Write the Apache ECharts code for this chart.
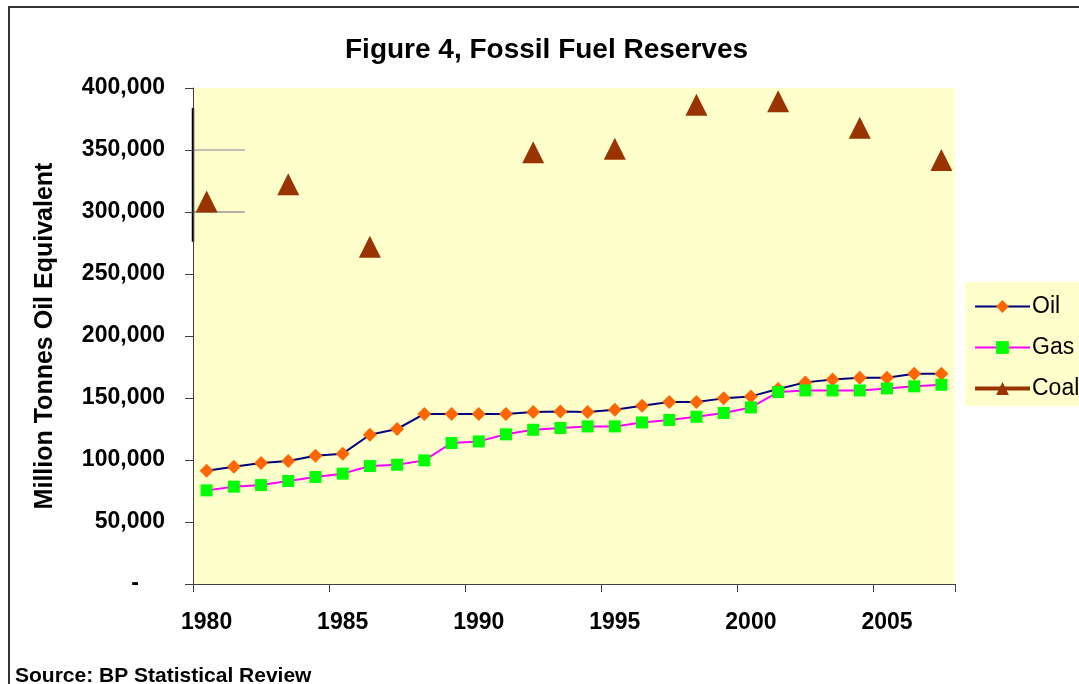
<!DOCTYPE html>
<html>
<head>
<meta charset="utf-8">
<script src="https://cdn.jsdelivr.net/npm/echarts@6/dist/echarts.min.js"></script>
<style>
html,body{margin:0;padding:0;background:#fff;}
#c{width:1079px;height:684px;}
</style>
</head>
<body>
<div id="c"></div>
<script>
// ---- data ----
const years = ['1980','1981','1982','1983','1984','1985','1986','1987','1988','1989',
               '1990','1991','1992','1993','1994','1995','1996','1997','1998','1999',
               '2000','2001','2002','2003','2004','2005','2006','2007'];
const xTickLabels = ['1980','1985','1990','1995','2000','2005'];
const oil = [91400, 94600, 97600, 99200, 103500, 105100, 120400, 125000, 137100, 137100,
             137100, 137100, 138700, 139200, 138700, 140600, 143800, 146800, 146800, 149700,
             151300, 157200, 162600, 165000, 166400, 166400, 169600, 169600];
const gas = [75500, 78500, 79800, 83100, 86300, 89000, 95100, 96200, 99700, 113700,
             115000, 120700, 124400, 125800, 127100, 127100, 130300, 132300, 134900, 137900,
             142400, 154800, 156100, 156100, 156100, 157700, 159400, 160700];
const coal = [308500, null, null, 322300, null, null, 271900, null, null, null,
              null, null, 348200, null, null, 351000, null, null, 386400, null,
              null, 389400, null, null, 368000, null, null, 342000];
const yMax = 400000;
const yStep = 50000;

const FONT = "'Liberation Sans', Arial, sans-serif";
const chart = echarts.init(document.getElementById('c'), null, {renderer: 'canvas'});

const showTick = (idx, val) => xTickLabels.indexOf(val) >= 0;

chart.setOption({
  animation: false,
  backgroundColor: '#ffffff',
  title: {
    text: 'Figure 4, Fossil Fuel Reserves',
    left: 345, top: 36, padding: 0,
    textStyle: {fontFamily: FONT, fontSize: 28, fontWeight: 'bold', color: '#000'}
  },
  grid: {
    left: 193, top: 88, right: 124, bottom: 100,
    show: true, backgroundColor: '#FFFFCC', borderWidth: 0, containLabel: false
  },
  legend: {
    orient: 'vertical',
    left: 965, top: 282,
    padding: [13, 8, 6, 8],
    backgroundColor: '#FFFFCC',
    itemWidth: 55, itemHeight: 16, itemGap: 18,
    textStyle: {fontFamily: FONT, fontSize: 23, color: '#000', padding: [0, 0, 0, -3]},
    data: [
      {name: 'Oil'},
      {name: 'Gas'},
      {name: 'Coal', lineStyle: {color: '#993300', width: 4, opacity: 1}}
    ]
  },
  xAxis: {
    type: 'category',
    data: years,
    boundaryGap: true,
    axisLine: {show: true, lineStyle: {color: '#404040', width: 1}},
    axisTick: {show: true, interval: showTick, length: 8, lineStyle: {color: '#404040'}},
    axisLabel: {
      interval: showTick, margin: 27,
      fontFamily: FONT, fontSize: 23, fontWeight: 'bold', color: '#000'
    },
    splitLine: {show: false}
  },
  yAxis: {
    type: 'value',
    min: 0, max: yMax, interval: yStep,
    name: 'Million Tonnes Oil Equivalent',
    nameLocation: 'middle',
    nameGap: 135,
    nameTextStyle: {fontFamily: FONT, fontSize: 25, fontWeight: 'bold', color: '#000'},
    axisLine: {show: true, lineStyle: {color: '#404040', width: 1}},
    axisTick: {show: true, length: 8, lineStyle: {color: '#404040'}},
    axisLabel: {
      margin: 28,
      fontFamily: FONT, fontSize: 23, fontWeight: 'bold', color: '#000',
      formatter: v => v === 0 ? '{z|-}' : v.toLocaleString('en-US'),
      rich: {z: {fontFamily: FONT, fontSize: 23, fontWeight: 'bold', color: '#000', padding: [0, 26, 0, 0]}}
    },
    splitLine: {show: false}
  },
  series: [
    {
      name: 'Oil', type: 'line', data: oil,
      symbol: 'diamond', symbolSize: 14, showAllSymbol: true,
      lineStyle: {color: '#000080', width: 2},
      itemStyle: {color: '#FF6600'}
    },
    {
      name: 'Gas', type: 'line', data: gas,
      symbol: 'rect', symbolSize: 12, showAllSymbol: true,
      lineStyle: {color: '#FF00FF', width: 2},
      itemStyle: {color: '#00FF00'}
    },
    {
      name: 'Coal', type: 'line', data: coal,
      symbol: 'triangle', symbolSize: 22, showAllSymbol: true,
      connectNulls: false,
      lineStyle: {color: '#993300', width: 4, opacity: 0},
      itemStyle: {color: '#993300'}
    }
  ],
  graphic: [
    {
      type: 'rect', id: 'frame', silent: true,
      shape: {x: 9, y: 7, width: 1300, height: 900},
      style: {fill: 'none', stroke: '#333', lineWidth: 2}
    },
    {
      type: 'text', id: 'source', left: 15, top: 666,
      style: {text: 'Source: BP Statistical Review', font: "bold 21px 'Liberation Sans', Arial, sans-serif", fill: '#000'}
    }
  ]
});

// Small residual gridline fragments and the heavy axis segment seen in the original
const x0 = chart.convertToPixel({gridIndex: 0}, [0, 0])[0] - (chart.convertToPixel({xAxisIndex: 0}, '1981') - chart.convertToPixel({xAxisIndex: 0}, '1980')) / 2;
const xEnd = chart.convertToPixel({xAxisIndex: 0}, '1981') + 11;
const y300 = chart.convertToPixel({yAxisIndex: 0}, 300000);
const y350 = chart.convertToPixel({yAxisIndex: 0}, 350000);
const yTopSeg = chart.convertToPixel({yAxisIndex: 0}, 384000);
const yBotSeg = chart.convertToPixel({yAxisIndex: 0}, 276000);
chart.setOption({
  graphic: [
    {type: 'line', id: 'g300', silent: true, shape: {x1: x0, y1: y300, x2: xEnd, y2: y300}, style: {stroke: '#999', lineWidth: 1.5}},
    {type: 'line', id: 'g350', silent: true, shape: {x1: x0, y1: y350, x2: xEnd, y2: y350}, style: {stroke: '#aaa', lineWidth: 1.5}},
    {type: 'line', id: 'vseg', silent: true, shape: {x1: x0, y1: yTopSeg, x2: x0, y2: yBotSeg}, style: {stroke: '#000', lineWidth: 2.5}}
  ]
});
</script>
</body>
</html>
